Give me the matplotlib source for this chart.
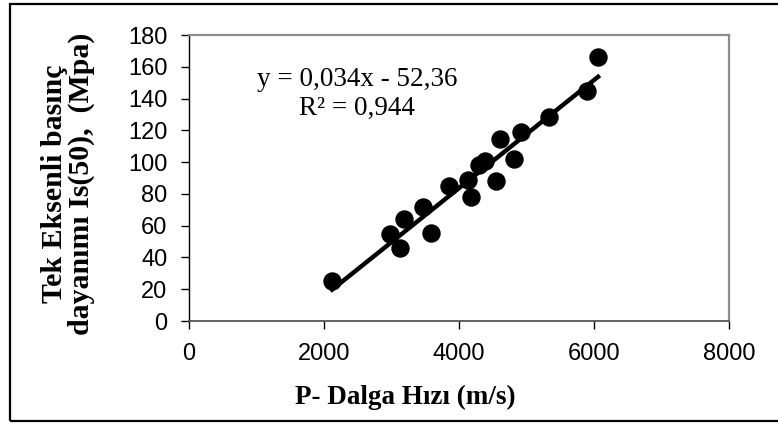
import matplotlib
matplotlib.use("Agg")
import matplotlib.pyplot as plt
import matplotlib.patches as patches
import numpy as np

# veri
vp = [2120, 2980, 3120, 3180, 3460, 3580, 3850, 4140, 4180, 4290,
      4390, 4550, 4610, 4810, 4915, 5330, 5900, 6060]
ucs = [25, 54.5, 46, 64.5, 72, 55.5, 85, 89, 78, 98,
       100.5, 88, 114.5, 102, 119, 128.5, 145, 166]
egim = 0.034
kesim = -52.36
r2 = 0.944
x_ticks = [0, 2000, 4000, 6000, 8000]
y_ticks = [0, 20, 40, 60, 80, 100, 120, 140, 160, 180]

W, H = 778, 424
fig = plt.figure(figsize=(W / 100, H / 100), dpi=100)

# dis cerceve
fig.patches.append(patches.Rectangle((10 / W, 3 / H), 1.2, 417 / H,
                                     transform=fig.transFigure, fill=False,
                                     edgecolor="black", linewidth=1.6))

ax = fig.add_axes([189 / W, (H - 321) / H, 540 / W, 286 / H])

ax.scatter(vp, ucs, s=150, color="black", zorder=3)
xx = np.array([min(vp), max(vp)])
ax.plot(xx, egim * xx + kesim, color="black", linewidth=3.2, zorder=2)

ax.set_xlim(0, 8000)
ax.set_ylim(0, 180)
ax.set_xticks(x_ticks)
ax.set_yticks(y_ticks)
ax.tick_params(direction="out", length=5.5, width=1, color="black",
               labelsize=17, pad=10)
for lab in ax.get_xticklabels() + ax.get_yticklabels():
    lab.set_fontfamily("Liberation Sans")

for s in ["top", "right"]:
    ax.spines[s].set_color("#8c8c8c")
    ax.spines[s].set_linewidth(1.6)
ax.spines["left"].set_color("black")
ax.spines["bottom"].set_color("#555555")
ax.spines["left"].set_linewidth(1)
ax.spines["bottom"].set_linewidth(1.3)

ax.text(0.311, 0.843, "y = 0,034x - 52,36", transform=ax.transAxes,
        ha="center", va="center", fontsize=19.5, family="Liberation Serif")
ax.text(0.311, 0.745, "R² = %s" % str(r2).replace(".", ","),
        transform=ax.transAxes, ha="center", va="center", fontsize=19.5,
        family="Liberation Serif")

fig.text(405 / W, (H - 397) / H, "P- Dalga Hızı (m/s)", ha="center",
         va="center", fontsize=19.5, fontweight="bold",
         family="Liberation Serif")
fig.text(68 / W, (H - 184) / H, "Tek Eksenli basınç\ndayanımı Is(50),  (Mpa)",
         ha="center", va="center", rotation=90, fontsize=21.5,
         fontweight="bold", family="Liberation Serif", linespacing=0.95,
         multialignment="center")

fig.savefig("out.png", dpi=100)
